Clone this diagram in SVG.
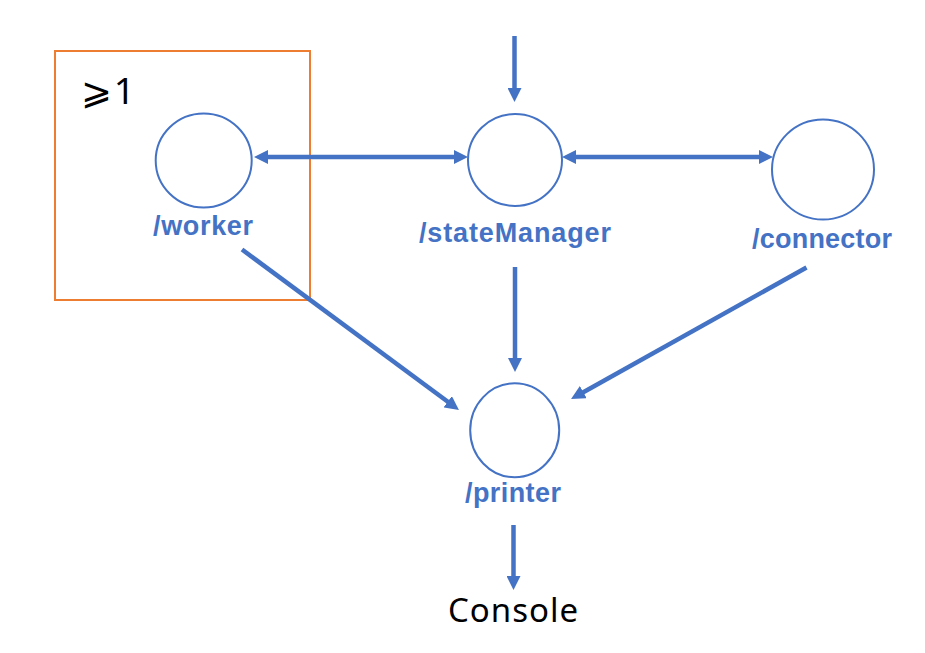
<svg xmlns="http://www.w3.org/2000/svg" width="925" height="653" viewBox="0 0 925 653">
  <style>
    .node { fill: #ffffff; stroke: #4472C4; stroke-width: 2; }
    .label { font-family: "Liberation Sans", "Noto Sans", sans-serif; font-weight: bold; font-size: 27px; fill: #4472C4; text-anchor: middle; }
    .edge { stroke: #4472C4; stroke-width: 4.5; fill: none; }
    .plain { font-family: "Noto Sans", "DejaVu Sans", sans-serif; fill: #000000; }
  </style>
  <defs>
    <marker id="arrow" viewBox="0 0 14 14" refX="1" refY="7" markerWidth="14" markerHeight="14" markerUnits="userSpaceOnUse" orient="auto-start-reverse">
      <path d="M0,0 L14,7 L0,14 z" fill="#4472C4"/>
    </marker>
  </defs>
  <rect width="925" height="653" fill="#ffffff"/>

  <g id="group-box">
    <rect x="55" y="51" width="255" height="249" fill="none" stroke="#ED7D31" stroke-width="2"/>
    <text class="plain" x="81" y="104" font-size="37" font-family="DejaVu Sans, sans-serif" textLength="54">⩾1</text>
  </g>

  <g id="connectors">
    <line class="edge" x1="514.5" y1="36" x2="514.5" y2="89" marker-end="url(#arrow)"/>
    <line class="edge" x1="267" y1="157" x2="455" y2="157" marker-start="url(#arrow)" marker-end="url(#arrow)"/>
    <line class="edge" x1="575" y1="157" x2="760" y2="157" marker-start="url(#arrow)" marker-end="url(#arrow)"/>
    <line class="edge" x1="515" y1="267" x2="515" y2="359" marker-end="url(#arrow)"/>
    <line class="edge" x1="242" y1="249.5" x2="448.5" y2="402.3" marker-end="url(#arrow)"/>
    <line class="edge" x1="806.5" y1="267.5" x2="582.4" y2="392.7" marker-end="url(#arrow)"/>
    <line class="edge" x1="513.5" y1="525" x2="513.5" y2="577" marker-end="url(#arrow)"/>
  </g>

  <g id="worker">
    <ellipse class="node" cx="203.7" cy="160.5" rx="48" ry="47"/>
    <text class="label" x="203" y="235" textLength="100">/worker</text>
  </g>
  <g id="stateManager">
    <ellipse class="node" cx="515" cy="160" rx="47" ry="46"/>
    <text class="label" x="515" y="242" textLength="192">/stateManager</text>
  </g>
  <g id="connector">
    <ellipse class="node" cx="823" cy="169.5" rx="51" ry="50"/>
    <text class="label" x="822" y="248" textLength="140">/connector</text>
  </g>
  <g id="printer">
    <ellipse class="node" cx="514.7" cy="430.3" rx="44.5" ry="47"/>
    <text class="label" x="513" y="502" textLength="96">/printer</text>
  </g>
  <g id="console">
    <text class="plain" x="513" y="622" font-size="33" text-anchor="middle" textLength="130">Console</text>
  </g>
</svg>
